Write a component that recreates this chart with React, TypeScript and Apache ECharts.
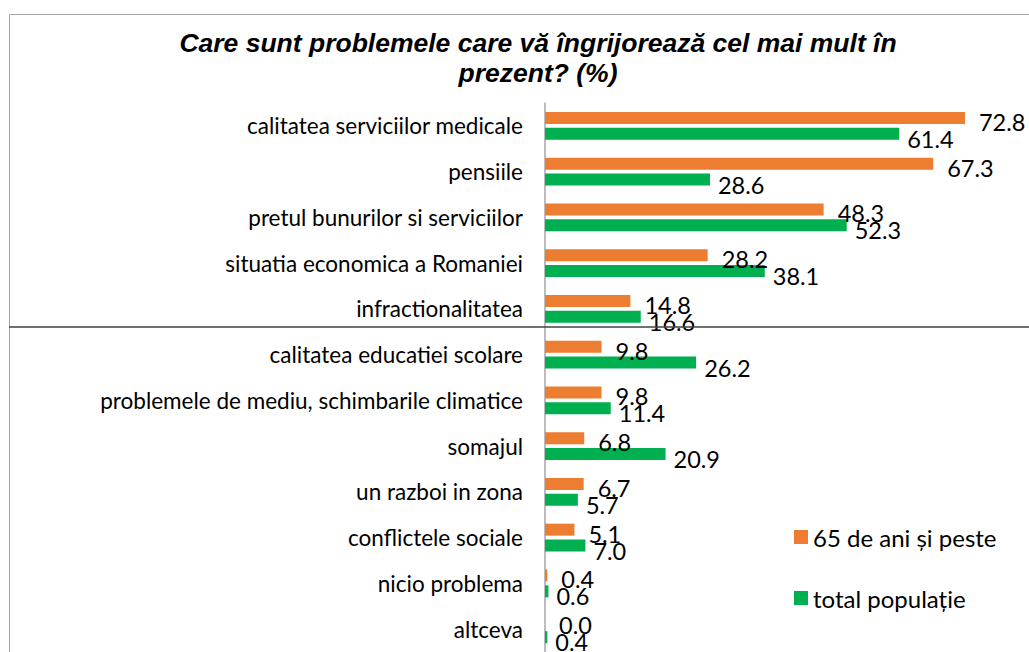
import React, { useEffect, useRef } from "react";
import * as echarts from "echarts";

const categories = [
  "calitatea serviciilor medicale",
  "pensiile",
  "pretul bunurilor si serviciilor",
  "situatia economica a Romaniei",
  "infractionalitatea",
  "calitatea educatiei scolare",
  "problemele de mediu, schimbarile climatice",
  "somajul",
  "un razboi in zona",
  "conflictele sociale",
  "nicio problema",
  "altceva",
];
const seniors = [72.8, 67.3, 48.3, 28.2, 14.8, 9.8, 9.8, 6.8, 6.7, 5.1, 0.4, 0.0];
const total = [61.4, 28.6, 52.3, 38.1, 16.6, 26.2, 11.4, 20.9, 5.7, 7.0, 0.6, 0.4];
const seriesNames = ["65 de ani și peste", "total populație"];
const titleText = "Care sunt problemele care vă îngrijorează cel mai mult în\nprezent? (%)";

const FONT = "Lato, 'Open Sans', sans-serif";

export default function App() {
  const ref = useRef<HTMLDivElement>(null);
  useEffect(() => {
    document.body.style.margin = "0";
    const chart = echarts.init(ref.current!, undefined, { renderer: "svg" });
    const label = (dy: number, dist: number) => ({
      show: true,
      position: "right" as const,
      distance: dist,
      offset: [0, dy],
      color: "#000",
      fontFamily: FONT,
      fontSize: 23.5,
      formatter: (p: any) => Number(p.value).toFixed(1),
    });
    chart.setOption({
      animation: false,
      title: {
        text: titleText,
        left: 533,
        top: 23,
        textAlign: "center",
        textStyle: {
          fontFamily: "'Liberation Sans', Arial, sans-serif",
          fontStyle: "italic",
          fontWeight: "bold",
          fontSize: 26.5,
          lineHeight: 30,
          color: "#000",
        },
      },
      legend: {
        orient: "vertical",
        left: 789,
        top: 520,
        itemWidth: 14,
        itemHeight: 14,
        itemGap: 37,
        icon: "rect",
        textStyle: { fontFamily: FONT, fontSize: 24, color: "#000" },
        data: seriesNames,
      },
      grid: { left: 545, top: 103, width: 461.5, height: 557 },
      xAxis: {
        type: "value",
        min: 0,
        max: 80,
        show: false,
      },
      yAxis: {
        type: "category",
        data: categories,
        inverse: true,
        axisLine: { show: true, lineStyle: { color: "#a6a6a6", width: 1.5 } },
        axisTick: { show: false },
        axisLabel: { fontFamily: FONT, fontSize: 22.5, color: "#000", margin: 22 },
      },
      graphic: [
        {
          type: "rect",
          shape: { x: 9.5, y: 14.5, width: 1100, height: 700 },
          style: { fill: "none", stroke: "#a6a6a6", lineWidth: 1 },
          silent: true,
        },
        {
          type: "line",
          shape: { x1: 9, y1: 327, x2: 1029, y2: 327 },
          style: { stroke: "#404040", lineWidth: 1.5 },
          silent: true,
          z: 100,
        },
      ],
      series: [
        {
          name: seriesNames[0],
          type: "bar",
          data: seniors,
          barWidth: 12,
          barGap: "33%",
          itemStyle: { color: "#ED7D31" },
          label: label(4, 14),
        },
        {
          name: seriesNames[1],
          type: "bar",
          data: total,
          barWidth: 12,
          itemStyle: { color: "#00B050" },
          label: label(5, 8),
        },
      ],
    });
    return () => chart.dispose();
  }, []);
  return <div ref={ref} style={{ width: 1029, height: 652 }} />;
}
